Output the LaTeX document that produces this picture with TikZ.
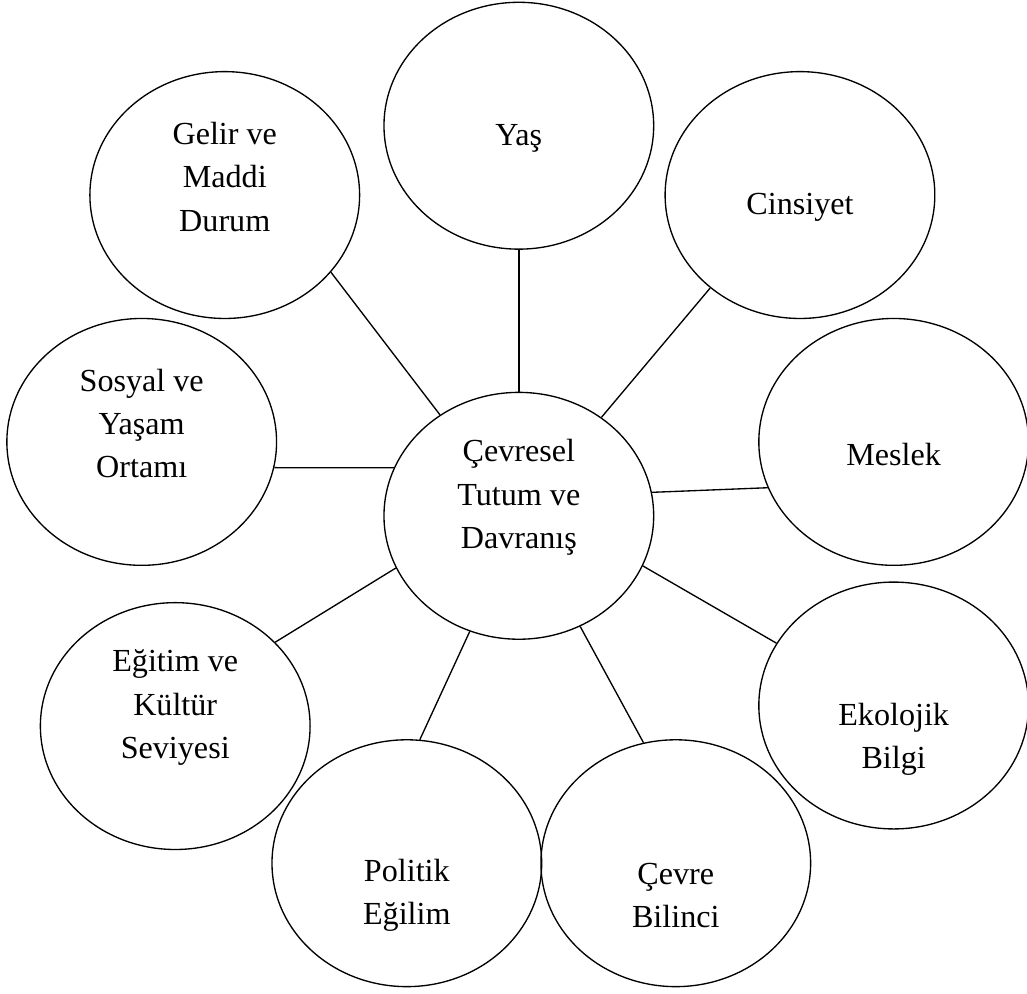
\documentclass[tikz,border=0pt]{standalone}
\usepackage{fontspec}
\setmainfont{Liberation Serif}
\usetikzlibrary{shapes.geometric}
\tikzset{
	bubble/.style={ellipse, draw, black, line width=0.5pt, minimum width=3.54cm, minimum height=3.24cm, inner sep=0pt},
	lbl/.style={align=center, font=\fontsize{12}{16.2}\selectfont, inner sep=0pt},
	link/.style={black, line width=0.5pt}
}
\begin{document}
\begin{tikzpicture}
		\useasboundingbox	(0, 0) rectangle (13.48, -13.04);

		\node[bubble, label={[lbl, yshift=2.4mm]center:Çevresel\\Tutum ve\\Davranış}]	(tutum) at (6.81, -6.77) {};

		\node[bubble, label={[lbl, yshift=-1.7mm]center:Yaş}]						(yas) at (6.81, -1.65) {};
		\node[bubble, label={[lbl, yshift=-1.6mm]center:Cinsiyet}]					(cinsiyet) at (10.50, -2.56) {};
		\node[bubble, label={[lbl, yshift=2.4mm]center:Gelir ve\\Maddi\\Durum}]		(gelir) at (2.95, -2.56) {};
		\node[bubble, label={[lbl, yshift=2.4mm]center:Sosyal ve\\Yaşam\\Ortamı}]	(sosyal) at (1.86, -5.80) {};
		\node[bubble, label={[lbl, yshift=-1.6mm]center:Meslek}]						(meslek) at (11.73, -5.80) {};
		\node[bubble, label={[lbl, yshift=2.4mm]center:Eğitim ve\\Kültür\\Seviyesi}]	(egitim) at (2.30, -9.53) {};
		\node[bubble, label={[lbl, yshift=-4.4mm]center:Ekolojik\\Bilgi}]			(ekoloji) at (11.73, -9.26) {};
		\node[bubble, label={[lbl, yshift=-4.2mm]center:Politik\\Eğilim}]			(politik) at (5.34, -11.33) {};
		\node[bubble, label={[lbl, yshift=-4.2mm]center:Çevre\\Bilinci}]				(bilinc) at (8.87, -11.33) {};

		\draw[link]	(tutum.128) to (gelir.324);
		\draw[link]	(tutum.90) to (yas.270);
		\draw[link]	(tutum.50) to (cinsiyet.226);
		\draw[link]	(tutum.159) to (sosyal.349);
		\draw[link]	(tutum.10) to (meslek.200);
		\draw[link]	(tutum.203) to (egitim.40);
		\draw[link]	(tutum.338) to (ekoloji.152);
		\draw[link]	(tutum.247) to (politik.84);
		\draw[link]	(tutum.299) to (bilinc.105);
	\end{tikzpicture}
\end{document}
